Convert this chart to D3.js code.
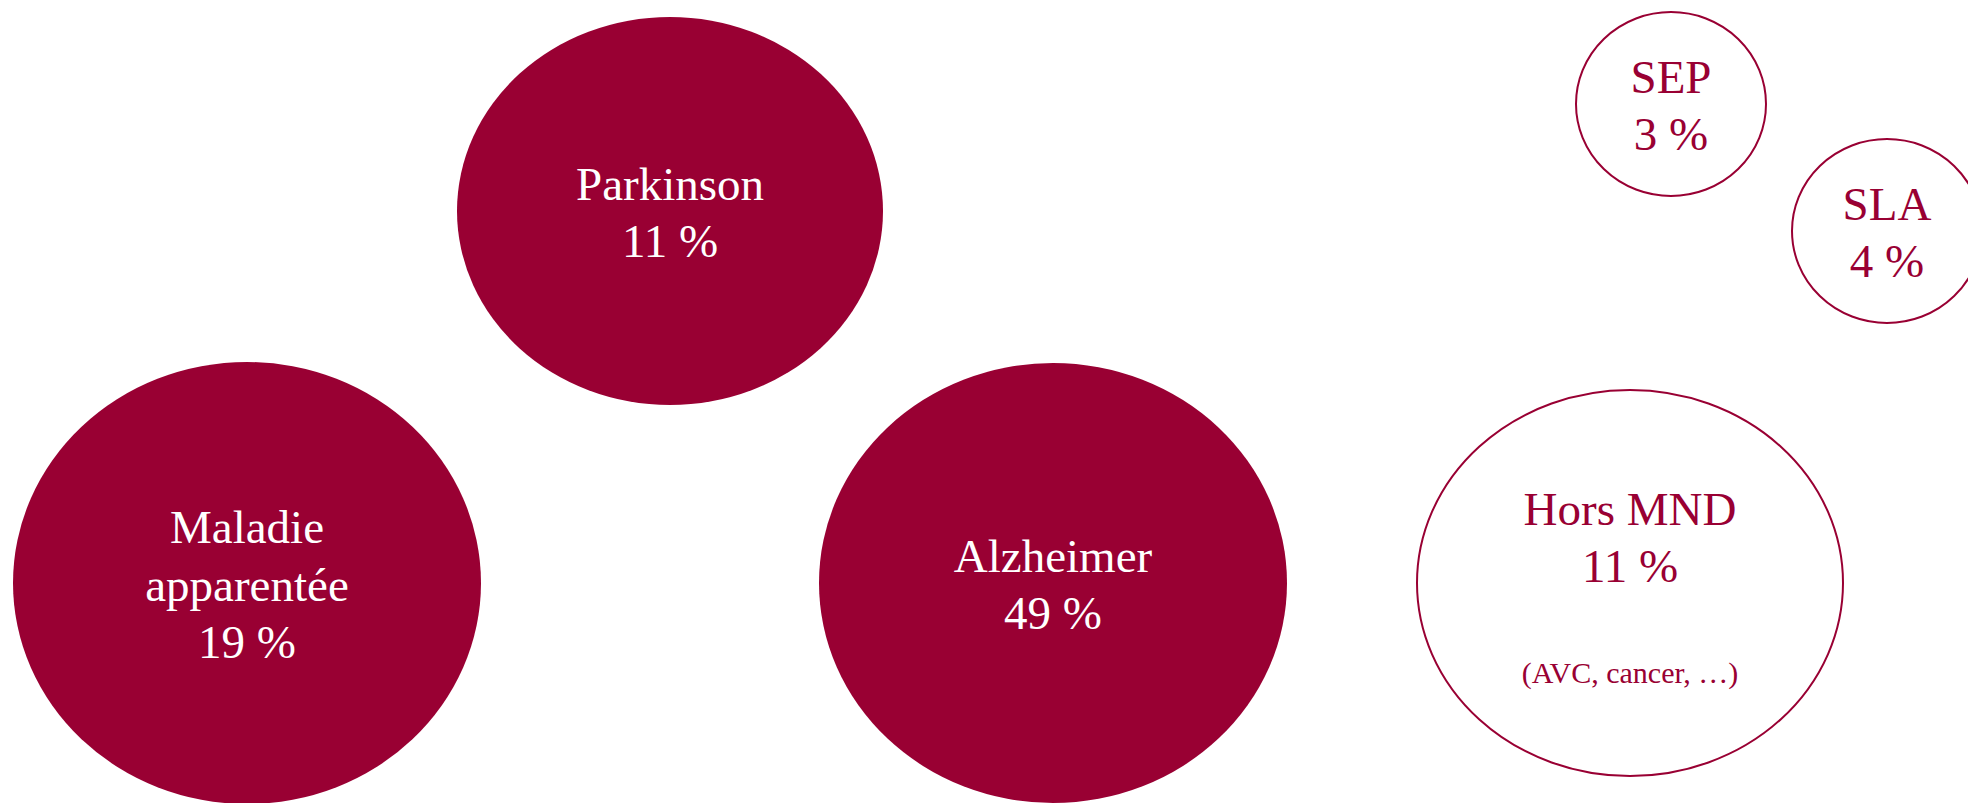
<!DOCTYPE html>
<html>
<head>
<meta charset="utf-8">
<script src="https://cdn.jsdelivr.net/npm/d3@7"></script>
<style>
  body { margin: 0; background: #fff; }
  svg { display: block; }
</style>
</head>
<body>
<div id="chart"></div>
<script>
// categories and shares (%)
const names = ["Parkinson", "Maladie\napparentée", "Alzheimer", "SEP", "SLA", "Hors MND"];
const percents = [11, 19, 49, 3, 4, 11];
const notes = ["", "", "", "", "", "(AVC, cancer, …)"];
const groups = ["MND", "MND", "MND", "autre", "autre", "autre"];

const width = 1968;
const height = 803;
const red = "#990033";

// where each bubble sits on the page (layout, not data)
const layout = {
  "Parkinson":          { cx: 670,  cy: 211, rx: 213, ry: 194 },
  "Maladie\napparentée": { cx: 247,  cy: 583, rx: 234, ry: 221 },
  "Alzheimer":          { cx: 1053, cy: 583, rx: 234, ry: 220 },
  "SEP":                { cx: 1671, cy: 104, rx: 95,  ry: 92 },
  "SLA":                { cx: 1887, cy: 231, rx: 95,  ry: 92 },
  "Hors MND":           { cx: 1630, cy: 583, rx: 213, ry: 193 }
};

const data = names.map((n, i) => ({
  name: n,
  pct: percents[i],
  note: notes[i],
  group: groups[i]
}));

const fill = d3.scaleOrdinal().domain(["MND", "autre"]).range([red, "#fff"]);
const ink = d3.scaleOrdinal().domain(["MND", "autre"]).range(["#fff", red]);

const svg = d3.select("#chart")
  .append("svg")
  .attr("width", width)
  .attr("height", height);

const g = svg.selectAll("g.bubble")
  .data(data)
  .enter()
  .append("g")
  .attr("class", "bubble")
  .attr("transform", d => "translate(" + layout[d.name].cx + "," + layout[d.name].cy + ")");

g.append("ellipse")
  .attr("rx", d => layout[d.name].rx)
  .attr("ry", d => layout[d.name].ry)
  .attr("fill", d => fill(d.group))
  .attr("stroke", d => d.group === "MND" ? "none" : red)
  .attr("stroke-width", 2);

const lh = 57.5;

const label = g.append("text")
  .attr("text-anchor", "middle")
  .attr("font-family", "'Liberation Serif', 'Times New Roman', serif")
  .attr("font-size", 47)
  .attr("fill", d => ink(d.group));

label.each(function(d) {
  const lines = d.name.split("\n").concat([d.pct + " %"]);
  let y0 = -(lines.length - 1) * lh / 2 + 17.5;
  if (d.note) y0 -= 47;
  const t = d3.select(this);
  lines.forEach((l, i) => {
    t.append("tspan").attr("x", 0).attr("y", y0 + i * lh).text(l);
  });
  if (d.note) {
    t.append("tspan")
      .attr("x", 0)
      .attr("y", y0 + (lines.length - 1) * lh + 101)
      .attr("font-size", 30)
      .text(d.note);
  }
});
</script>
</body>
</html>
